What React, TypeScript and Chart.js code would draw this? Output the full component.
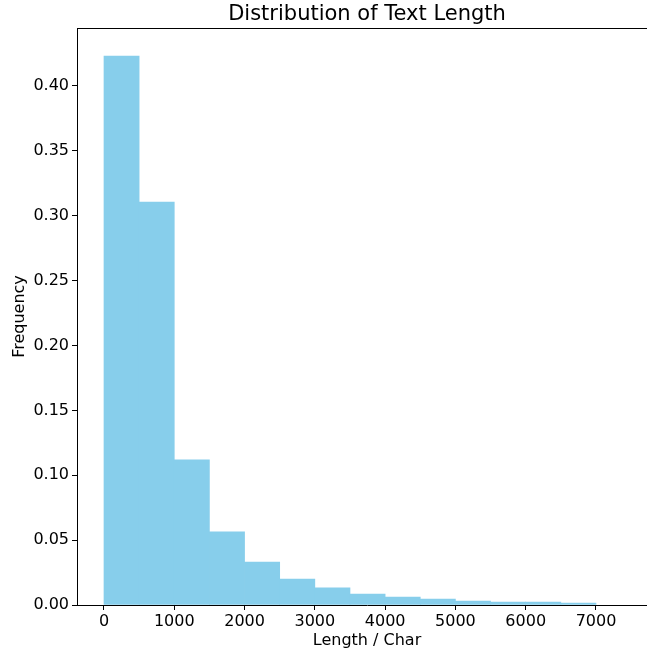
import React, { useEffect, useRef } from "react";
import { Chart, registerables } from "chart.js";

Chart.register(...registerables);

const binStarts = [0, 500, 1000, 1500, 2000, 2500, 3000, 3500, 4000, 4500, 5000, 5500, 6000, 6500];
const binWidth = 500;
const frequencies = [0.4231, 0.3106, 0.1118, 0.0563, 0.0331, 0.0200, 0.0133, 0.0085, 0.0062, 0.0046, 0.0031, 0.0023, 0.0023, 0.0015];
const xTicks = [0, 1000, 2000, 3000, 4000, 5000, 6000, 7000];
const yTicks = [0, 0.05, 0.1, 0.15, 0.2, 0.25, 0.3, 0.35, 0.4];
const titleText = "Distribution of Text Length";

const FONT = "'DejaVu Sans', sans-serif";
const CANVAS_W = 657;

export default function App() {
  const ref = useRef<HTMLCanvasElement | null>(null);

  useEffect(() => {
    document.body.style.margin = "0";
    const canvas = ref.current;
    if (!canvas) return;

    const decorations = {
      id: "decorations",
      afterDraw(chart: any) {
        const { ctx, chartArea } = chart;
        ctx.save();
        ctx.strokeStyle = "#000";
        ctx.lineWidth = 1;
        ctx.beginPath();
        ctx.moveTo(chartArea.left, chartArea.top + 0.5);
        ctx.lineTo(chartArea.right, chartArea.top + 0.5);
        ctx.stroke();
        ctx.fillStyle = "#000";
        ctx.font = `21px ${FONT}`;
        ctx.textAlign = "center";
        ctx.textBaseline = "middle";
        ctx.fillText(titleText, (chartArea.left + chartArea.right) / 2, 15);
        ctx.restore();
      },
    };

    const chart = new Chart(canvas, {
      type: "bar",
      data: {
        datasets: [
          {
            data: binStarts.map((s, i) => ({ x: s + binWidth / 2, y: frequencies[i] })),
            backgroundColor: "#87CEEB",
            borderWidth: 0,
            barPercentage: 1,
            categoryPercentage: 1,
          },
        ],
      },
      options: {
        animation: false,
        responsive: false,
        devicePixelRatio: 1,
        layout: { padding: { left: 0, right: 0, top: 28, bottom: 0 } },
        plugins: {
          legend: { display: false },
          tooltip: { enabled: false },
          title: { display: false },
        },
        scales: {
          x: {
            type: "linear",
            min: -384,
            max: 7868,
            offset: false,
            afterBuildTicks(scale: any) {
              scale.ticks = xTicks.map((v) => ({ value: v }));
            },
            afterFit(scale: any) {
              scale.height = 46;
            },
            ticks: {
              color: "#000",
              font: { family: FONT, size: 16 },
              padding: 2,
              maxRotation: 0,
              autoSkip: false,
              callback: (v: any) => String(v),
            },
            grid: {
              display: true,
              offset: false,
              drawOnChartArea: false,
              drawTicks: true,
              tickLength: 5,
              color: "#000",
            },
            border: { display: true, color: "#000", width: 1 },
            title: {
              display: true,
              text: "Length / Char",
              color: "#000",
              font: { family: FONT, size: 16 },
              padding: { top: 0, bottom: 1 },
            },
          },
          y: {
            type: "linear",
            min: 0,
            max: 0.4447,
            afterBuildTicks(scale: any) {
              scale.ticks = yTicks.map((v) => ({ value: v }));
            },
            afterFit(scale: any) {
              scale.width = 77;
            },
            ticks: {
              color: "#000",
              font: { family: FONT, size: 16 },
              padding: 3,
              autoSkip: false,
              callback: (v: any) => Number(v).toFixed(2),
            },
            grid: {
              display: true,
              offset: false,
              drawOnChartArea: false,
              drawTicks: true,
              tickLength: 5,
              color: "#000",
            },
            border: { display: true, color: "#000", width: 1 },
            title: {
              display: true,
              text: "Frequency",
              color: "#000",
              font: { family: FONT, size: 16 },
              padding: { top: 10, bottom: 0 },
            },
          },
        },
      } as any,
      plugins: [decorations],
    });

    return () => chart.destroy();
  }, []);

  return (
    <div style={{ width: 647, height: 651, overflow: "hidden" }}>
      <canvas ref={ref} width={CANVAS_W} height={651} style={{ width: CANVAS_W, height: 651, display: "block" }} />
    </div>
  );
}
